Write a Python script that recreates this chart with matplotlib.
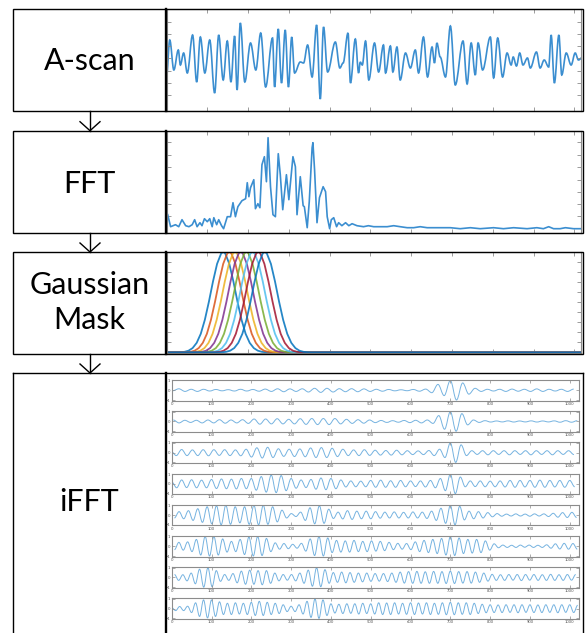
import numpy as np
import matplotlib
matplotlib.use('Agg')
import matplotlib.pyplot as plt
from matplotlib.patches import Rectangle, PathPatch
from matplotlib.path import Path

plt.rcParams['font.family'] = ['Lato', 'DejaVu Sans']

# ---- data ----
row_labels = ['A-scan', 'FFT', 'Gaussian\nMask', 'iFFT']

# A-scan (depth index, amplitude a.u.) - successive extrema
ascan_depth = [0, 8, 18, 29, 34, 42, 51, 64, 74, 83,
               94, 106, 118, 128, 139, 149, 158, 167, 173, 181,
               192, 206, 219, 231, 243, 260, 265, 274, 282, 291,
               299, 307, 314, 328, 336, 346, 357, 368, 377, 385,
               395, 414, 425, 433, 445, 451, 463, 471, 475, 480,
               488, 496, 510, 520, 532, 537, 549, 555, 565, 573,
               586, 598, 610, 618, 630, 640, 651, 657, 663, 671,
               684, 696, 708, 727, 737, 747, 757, 764, 775, 794,
               802, 812, 824, 835, 845, 850, 858, 866, 874, 885,
               892, 907, 916, 926, 937, 943, 951, 962, 969, 980,
               992, 1002, 1010, 1021]
ascan_amp = [-17, 20, -10, 10, -5, 7, -13, 25, -22, 23,
             -13, 20, -33, 25, -20, 19, -22, 24, -30, 37,
             -22, 17, -10, 27, -27, 22, -27, 31, -23, 30,
             -27, 23, -13, -2, -3, 15, -17, 35, -39, 33,
             -12, 18, -8, -3, 27, -23, 21, -13, -2, -5,
             19, -20, 17, -12, 15, -13, 14, -12, 13, -20,
             7, -8, 10, -13, 23, -17, 13, -3, 17, 3,
             -17, 34, -25, 19, -24, 17, -15, 17, -10, 23,
             -18, 22, -17, 7, -5, 3, -6, 7, -5, 2,
             -8, 8, -8, 0, -7, 25, -23, 25, -15, 7,
             -5, 7, 0, 3]

# FFT magnitude (bin, amplitude)
fft_bin = [3, 10, 22, 30, 38, 47, 55, 63, 69, 75,
           82, 87, 93, 100, 106, 112, 116, 123, 128, 135,
           140, 149, 157, 163, 169, 175, 185, 194, 198, 202,
           206, 214, 218, 224, 229, 234, 240, 245, 249, 255,
           261, 267, 274, 279, 285, 294, 300, 310, 316, 320,
           328, 335, 338, 345, 350, 357, 359, 363, 369, 375,
           384, 390, 394, 400, 404, 410, 417, 422, 430, 439,
           447, 455, 467, 483, 495, 508, 524, 541, 557, 573,
           590, 606, 622, 639, 663, 679, 696, 720, 745, 769,
           802, 826, 851, 884, 908, 924, 937, 949, 965, 978,
           998, 1018]
fft_amp = [18, 6, 8, 6, 13, 7, 6, 8, 13, 6,
           10, 7, 14, 11, 14, 6, 15, 8, 13, 7,
           4, 16, 16, 30, 16, 26, 32, 34, 50, 36,
           45, 53, 24, 29, 25, 68, 76, 51, 95, 46,
           18, 16, 79, 58, 23, 58, 33, 76, 66, 18,
           56, 27, 26, 5, 31, 85, 90, 63, 10, 35,
           46, 41, 16, 4, 13, 15, 6, 10, 7, 10,
           7, 9, 7, 6, 7, 6, 6, 6, 7, 6,
           5, 5, 6, 5, 5, 5, 5, 4, 5, 4,
           5, 4, 5, 4, 5, 4, 6, 4, 4, 5,
           4, 4]

# Gaussian masks: centres and one sampled profile
mask_centers = [139, 154, 168, 182, 196, 211, 225, 241]
mask_offsets = [-1100, -115, -105, -95, -85, -75, -65, -55, -45, -35, -25, -15, -5, 0,
                5, 15, 25, 35, 45, 55, 65, 75, 85, 95, 105, 115, 1100]
mask_shape = [0, 0.0006, 0.0022, 0.0066, 0.018, 0.044, 0.096, 0.186, 0.325, 0.506, 0.707, 0.882, 0.986, 1.0,
              0.986, 0.882, 0.707, 0.506, 0.325, 0.186, 0.096, 0.044, 0.018, 0.0066, 0.0022, 0.0006, 0]
mask_colors = ['#0072BD', '#D95319', '#EDB120', '#7E2F8E', '#77AC30', '#4DBEEE', '#A2142F', '#0072BD']

# iFFT traces: successive extrema (x 1/100), first sample position and half period
ifft_start = [2.5, 4, -2, 0, 6.75, 7, 7, 0]
ifft_half = [15.5, 14.5, 13.5, 12.5, 11.75, 11, 10.5, 10]
ifft_1 = [-5, 15, -12, 10, -12, 10, -8, 8, -6, 6, -8,
          10, -8, 8, -10, 12, -12, 15, -15, 14, -12,
          15, -18, 20, -22, 20, -18, 16, -15, 16, -15,
          14, -12, 10, -10, 8, -6, 5, -5, 8, -10,
          12, -25, 60, -55, 100, -100, 75, -40, 20, -12,
          10, -8, 10, -12, 12, -10, 10, -12, 14, -12,
          10, -8, 10, -12, 12]
ifft_2 = [15, -15, 12, -10, 12, -15, 15, -15, 18, -18,
          15, -15, 18, -20, 25, -28, 25, -25, 28, -25,
          22, -25, 28, -30, 30, -32, 30, -32, 30, -25,
          22, -20, 18, -18, 15, -12, 10, -10, 8, -8,
          10, -12, 12, -15, 15, -20, 60, -80, 100, -100,
          80, -35, 15, -10, 8, -6, 5, -5, 6, -6,
          5, -5, 6, -6, 5, -5, 6, -8, 8, -8,
          8]
ifft_3 = [15, -30, 32, -30, 28, -30, 30, -32, 30, -28, 30,
          -30, 28, -32, 35, -45, 50, -55, 55, -50, 40,
          -38, 35, -40, 38, -42, 48, -50, 52, -50, 45,
          -40, 35, -30, 28, -30, 30, -28, 25, -25, 22,
          -25, 25, -22, 20, -20, 18, -20, 22, -30, 35,
          -50, 100, -100, 80, -30, 20, -18, 20, -22, 20,
          -18, 20, -22, 20, -18, 20, -22, 20, -18, 20,
          -22, 20, -18, 20, -20]
ifft_4 = [20, -40, 40, -38, 42, -40, 38, -40, 45, -48, 50,
          -50, 48, -52, 55, -50, 55, -65, 75, -85, 90,
          -90, 85, -70, 55, -45, 40, -38, 45, -55, 60,
          -60, 55, -50, 40, -32, 30, -30, 28, -30, 35,
          -35, 38, -35, 32, -35, 35, -30, 30, -28, 30,
          -32, 35, -40, 55, -70, 100, -100, 70, -30, 30,
          -28, 30, -30, 28, -30, 30, -32, 35, -35, 35,
          -32, 35, -35, 38, -35, 35, -32, 35, -35, 35,
          -30]
ifft_5 = [-30, 35, -38, 45, -55, 65, -75, 85, -90, 95,
          -100, 100, -95, 85, -80, 85, -95, 100, -100, 100,
          -95, 85, -70, 50, -30, 15, -15, 30, -55, 75,
          -90, 95, -85, 60, -35, 30, -40, 45, -45, 40,
          -38, 40, -38, 35, -32, 30, -30, 32, -30, 28,
          -30, 32, -30, 30, -35, 40, -55, 70, -85, 100,
          -100, 90, -50, 40, -38, 35, -30, 25, -18, 15,
          -12, 10, -10, 12, -10, 10, -12, 12, -10, 12,
          -15, 18, -22, 25, -25, 28, -25]
ifft_6 = [-35, 40, -40, 45, -55, 70, -90, 100, -100, 100,
          -90, 75, -60, 50, -55, 70, -85, 95, -100, 100,
          -95, 80, -55, 35, -30, 28, -25, 20, -20, 30,
          -50, 75, -95, 100, -100, 85, -65, 60, -60, 55,
          -60, 60, -55, 50, -55, 55, -50, 50, -45, 40,
          -35, 30, -30, 28, -35, 45, -55, 60, -65, 70,
          -75, 80, -90, 100, -95, 85, -75, 70, -70, 70,
          -65, 55, -40, 25, -15, 12, -12, 10, -12, 12,
          -10, 12, -12, 10, -12, 15, -20, 25, -28, 30,
          -30, 28, -30]
ifft_7 = [30, -30, 28, -35, 45, -65, 85, -100, 100, -95,
          70, -40, 30, -30, 40, -55, 65, -70, 75, -70,
          70, -75, 70, -60, 45, -35, 30, -28, 30, -35,
          45, -60, 75, -90, 100, -95, 80, -60, 50, -50,
          55, -55, 50, -50, 45, -45, 45, -40, 40, -38,
          40, -42, 45, -50, 55, -58, 60, -60, 62, -60,
          58, -60, 62, -60, 60, -62, 65, -62, 60, -58,
          60, -58, 55, -50, 45, -38, 32, -30, 28, -30,
          30, -28, 30, -32, 30, -28, 30, -30, 28, -30,
          32, -30, 28, -30, 30, -28, 30]
ifft_8 = [10, -20, 22, -20, 25, -40, 60, -80, 90, -95, 90,
          -80, 70, -60, 55, -60, 60, -55, 55, -60, 65,
          -70, 75, -70, 65, -60, 55, -50, 40, -30, 25,
          -30, 40, -55, 75, -90, 100, -100, 90, -70, 50,
          -45, 45, -50, 50, -48, 50, -55, 55, -50, 50,
          -55, 60, -60, 58, -60, 60, -55, 55, -58, 60,
          -60, 58, -55, 60, -60, 55, -58, 60, -62, 65,
          -62, 60, -58, 60, -60, 55, -50, 45, -42, 40,
          -40, 38, -40, 40, -38, 40, -42, 40, -38, 40,
          -40, 38, -40, 40, -38, 40, -42, 40, -38, 40,
          -40, 35]
ifft_traces = [ifft_1, ifft_2, ifft_3, ifft_4, ifft_5, ifft_6, ifft_7, ifft_8]

# ---- layout (pixels of the 585x633 canvas) ----
W, H = 585, 633
fig = plt.figure(figsize=(W / 100, H / 100), dpi=100)
GRAY = '#8c8c8c'
BLUE = '#3b8ed0'


def px_axes(x0, y0, x1, y1):
    return fig.add_axes([x0 / W, 1 - y1 / H, (x1 - x0) / W, (y1 - y0) / H])


def style_panel(ax):
    for s in ax.spines.values():
        s.set_color(GRAY)
        s.set_linewidth(0.8)
    ax.tick_params(direction='in', length=3, width=0.6, color=GRAY,
                   top=True, right=True, labelleft=False, labelbottom=False)


def wave(ax, x, y, **kw):
    # extrema joined by bezier segments with flat tangents (smooth oscillation look)
    verts = [(x[0], y[0])]
    codes = [Path.MOVETO]
    for i in range(len(x) - 1):
        d = x[i + 1] - x[i]
        verts += [(x[i] + 0.36 * d, y[i]), (x[i + 1] - 0.36 * d, y[i + 1]), (x[i + 1], y[i + 1])]
        codes += [Path.CURVE4] * 3
    ax.add_patch(PathPatch(Path(verts, codes), fill=False, **kw))


# A-scan
ax = px_axes(166.5, 8.5, 580.5, 110.5)
wave(ax, ascan_depth, ascan_amp, ec=BLUE, lw=1.2)
ax.set_xlim(0, 1015)
ax.set_ylim(-50.5, 51.5)
ax.set_xticks(range(100, 1001, 100))
ax.set_yticks([-35, -22.7, -10.7, 1.7, 14, 26, 38.3])
style_panel(ax)

# FFT
ax = px_axes(166.5, 130.7, 580.5, 232.7)
ax.plot(fft_bin, fft_amp, color=BLUE, lw=1.2)
ax.set_xlim(0, 1015)
ax.set_ylim(0, 102)
ax.set_xticks(range(100, 1001, 100))
ax.set_yticks([16.3, 28.7, 40.7, 53, 65.7, 78, 90.3])
style_panel(ax)

# Gaussian masks
ax = px_axes(166.5, 252, 580.5, 352.5)
for c, col in zip(mask_centers, mask_colors):
    ax.plot(np.array(mask_offsets) + c, mask_shape, color=col, lw=1.3, alpha=0.85)
ax.set_xlim(0, 1015)
ax.set_ylim(0, 1)
ax.set_xticks(range(100, 1001, 100))
ax.set_yticks(np.arange(0.1, 0.95, 0.1))
style_panel(ax)

# iFFT stack
for k, tr in enumerate(ifft_traces):
    top = 380 + 31.2 * k
    ax = px_axes(171.7, top, 579.3, top + 20.5)
    xs = ifft_start[k] + ifft_half[k] * np.arange(len(tr))
    wave(ax, xs, np.array(tr) / 100, ec='#76b3e0', lw=0.7)
    ax.set_xlim(0, 1024)
    ax.set_ylim(-1.05, 1.05)
    ax.set_xticks(range(0, 1001, 100))
    ax.set_yticks([-1, 0, 1])
    for s in ax.spines.values():
        s.set_color(GRAY)
        s.set_linewidth(0.8)
    ax.tick_params(direction='in', length=2.5, width=0.5, color=GRAY,
                   top=True, right=True, labelsize=3, pad=1, labelcolor='#555555')

# ---- boxes, arrows, labels ----
ov = fig.add_axes([0, 0, 1, 1], zorder=10)
ov.set_xlim(0, W)
ov.set_ylim(H, 0)
ov.axis('off')
ov.patch.set_visible(False)

rows = [(8.5, 110.7), (130.7, 232.7), (252, 354)]
for top, bot in rows:
    ov.add_patch(Rectangle((13.3, top), 583.3 - 13.3, bot - top, fill=False, ec='black', lw=1.0))
    ov.plot([166, 166], [top, bot], color='black', lw=1.7)
ov.plot([13.3, 583.3], [373, 373], color='black', lw=1.0)
ov.plot([13.3, 13.3], [373, H + 5], color='black', lw=1.0)
ov.plot([583.3, 583.3], [373, H + 5], color='black', lw=1.0)
ov.plot([166, 166], [373, H + 5], color='black', lw=1.7)

arrow_gaps = [(110.7, 130.7), (232.7, 252), (354, 373)]
for y0, y1 in arrow_gaps:
    ov.plot([90, 90], [y0, y1], color='black', lw=1.0)
    ov.plot([80, 90, 100], [y1 - 9, y1, y1 - 9], color='black', lw=1.0)

label_base = [70, 192.7, 294, 511]
for lab, yb in zip(row_labels, label_base):
    for j, part in enumerate(lab.split('\n')):
        ov.text(89.5, yb + 35 * j, part, ha='center', va='baseline', fontsize=22)

fig.savefig('out.png', dpi=100)
